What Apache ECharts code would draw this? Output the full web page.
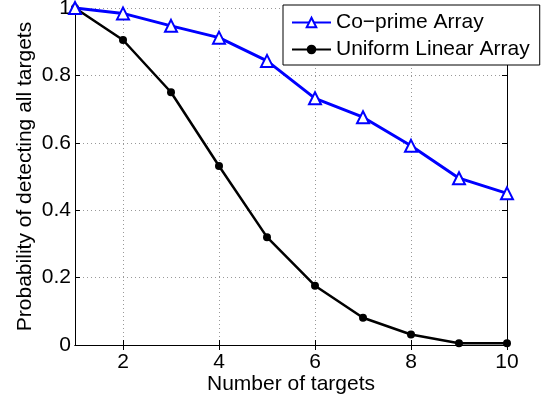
<!DOCTYPE html>
<html>
<head>
<meta charset="utf-8">
<script src="https://cdn.jsdelivr.net/npm/echarts@6/dist/echarts.min.js"></script>
<style>html,body{margin:0;padding:0;background:#fff}#c{width:543px;height:401px}</style>
</head>
<body>
<div id="c"></div>
<script>
var categories = ['1','2','3','4','5','6','7','8','9','10'];
var coprime = [1.0, 0.984, 0.947, 0.912, 0.843, 0.732, 0.676, 0.591, 0.495, 0.450];
var ula = [1.0, 0.905, 0.750, 0.531, 0.320, 0.176, 0.081, 0.031, 0.005, 0.005];
var yTicks = { min: 0, max: 1, interval: 0.2 };
var FONT = "'Liberation Sans', Arial, Helvetica, sans-serif";
var FS = 21;
var evenOnly = function (idx) { return idx % 2 === 1; };

var chart = echarts.init(document.getElementById('c'), null, { renderer: 'canvas' });
chart.setOption({
  animation: false,
  backgroundColor: '#fff',
  textStyle: { fontFamily: FONT },
  grid: { left: 75, right: 36, top: 8, bottom: 56, containLabel: false, outerBoundsMode: 'none' },
  legend: {
    orient: 'vertical',
    left: 283, top: 5,
    padding: [7, 10, 5, 8],
    itemGap: 6,
    itemWidth: 39, itemHeight: 12,
    borderColor: '#000', borderWidth: 1, borderRadius: 0,
    backgroundColor: '#fff',
    textStyle: { fontFamily: FONT, fontSize: FS, color: '#000', lineHeight: 21 },
    data: ['Co\u2212prime Array', 'Uniform Linear Array']
  },
  xAxis: [{
    type: 'category', data: categories, boundaryGap: false,
    name: 'Number of targets', nameLocation: 'middle', nameGap: 29, nameMoveOverlap: false,
    nameTextStyle: { fontFamily: FONT, fontSize: FS, color: '#000' },
    axisLine: { lineStyle: { color: '#000', width: 1 } },
    axisTick: { inside: true, length: 5, interval: evenOnly, lineStyle: { color: '#000' } },
    axisLabel: { interval: evenOnly, margin: 7, fontFamily: FONT, fontSize: FS, color: '#000' },
    splitLine: { show: true, interval: evenOnly, lineStyle: { color: '#999', type: [1, 3], width: 1 } }
  }, {
    type: 'category', data: categories, boundaryGap: false, position: 'top',
    axisLine: { lineStyle: { color: '#000', width: 1 } },
    axisTick: { inside: true, length: 5, interval: evenOnly, lineStyle: { color: '#000' } },
    axisLabel: { show: false }, splitLine: { show: false }
  }],
  yAxis: [{
    type: 'value', min: yTicks.min, max: yTicks.max, interval: yTicks.interval,
    name: 'Probability of detecting all targets', nameLocation: 'middle', nameGap: 39, nameMoveOverlap: false,
    nameTextStyle: { fontFamily: FONT, fontSize: FS, color: '#000' },
    axisLine: { show: true, lineStyle: { color: '#000', width: 1 } },
    axisTick: { show: true, inside: true, length: 5, lineStyle: { color: '#000' } },
    axisLabel: { margin: 4, fontFamily: FONT, fontSize: FS, color: '#000' },
    splitLine: { show: true, lineStyle: { color: '#999', type: [1, 3], width: 1 } }
  }, {
    type: 'value', min: yTicks.min, max: yTicks.max, interval: yTicks.interval, position: 'right',
    axisLine: { show: true, lineStyle: { color: '#000', width: 1 } },
    axisTick: { show: true, inside: true, length: 5, lineStyle: { color: '#000' } },
    axisLabel: { show: false }, splitLine: { show: false }
  }],
  series: [{
    name: 'Co\u2212prime Array', type: 'line', data: coprime,
    symbol: 'triangle', symbolSize: 12, showAllSymbol: true,
    lineStyle: { color: '#0000ff', width: 3 },
    itemStyle: { color: '#ffffff', borderColor: '#0000ff', borderWidth: 2 },
    z: 3
  }, {
    name: 'Uniform Linear Array', type: 'line', data: ula,
    symbol: 'circle', symbolSize: 8, showAllSymbol: true,
    lineStyle: { color: '#000', width: 2.5 },
    itemStyle: { color: '#000', borderColor: '#000', borderWidth: 0 },
    z: 2
  }]
});
</script>
</body>
</html>
